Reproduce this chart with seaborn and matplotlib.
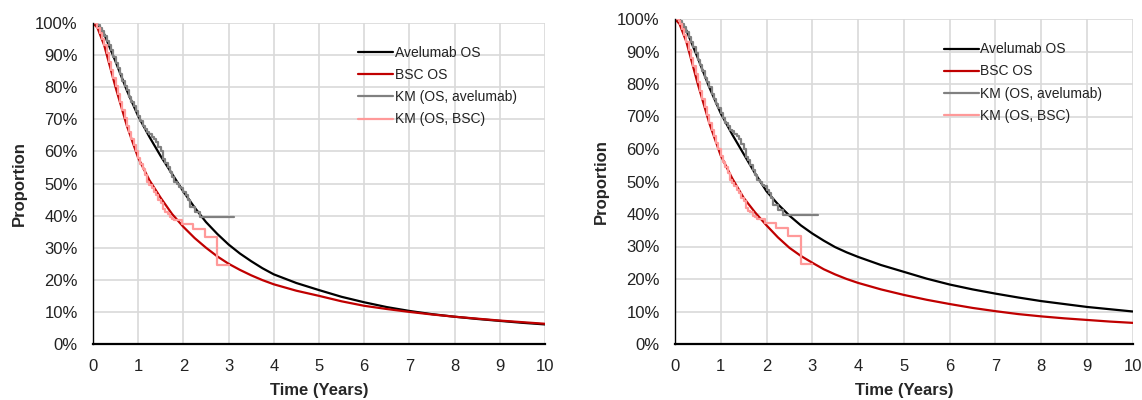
import numpy as np
import pandas as pd
import matplotlib
matplotlib.use("Agg")
import matplotlib.pyplot as plt
import seaborn as sns
from matplotlib.ticker import PercentFormatter

# ---------------- data (percent survival) ----------------
curve_t = [0, 0.1, 0.25, 0.5, 0.75, 1.0, 1.25, 1.5, 1.75, 2.0, 2.25, 2.5, 2.75, 3.0, 3.25, 3.5, 3.75,
           4.0, 4.5, 5.0, 5.5, 6.0, 6.5, 7.0, 7.5, 8.0, 8.5, 9.0, 9.5, 10.0]

left_avelumab_os = [100, 99.5, 96.5, 88, 79, 71, 64.5, 58.5, 53, 47.5, 42.5, 38, 34.3, 31, 28.2, 25.8, 23.6,
                    21.7, 19, 16.8, 14.7, 13, 11.5, 10.3, 9.3, 8.5, 7.8, 7.2, 6.6, 6.1]
left_bsc_os = [100, 98.5, 93, 80, 68, 58, 51, 45.5, 40.5, 36.5, 33, 30, 27.3, 25, 23.1, 21.4, 19.9,
               18.6, 16.6, 15, 13.3, 11.9, 10.9, 10, 9.2, 8.5, 7.9, 7.3, 6.8, 6.3]

right_avelumab_os = [100, 99.5, 96.5, 88, 79, 71, 64.5, 58.5, 52.5, 47, 43, 39.5, 36.5, 34, 31.8, 29.8, 28.2,
                     26.8, 24.3, 22.2, 20.1, 18.3, 16.8, 15.5, 14.3, 13.2, 12.3, 11.4, 10.7, 10]
right_bsc_os = [100, 98.5, 93, 80, 68, 58, 51, 45, 40.5, 36.5, 32.8, 29.6, 27.1, 25, 23, 21.4, 20,
                18.8, 16.8, 15.1, 13.6, 12.3, 11.1, 10.1, 9.2, 8.5, 7.9, 7.4, 6.9, 6.5]

km_avelumab_t = [0, 0.1, 0.15, 0.2, 0.25, 0.3, 0.35, 0.4, 0.45, 0.5, 0.55, 0.6, 0.65, 0.7, 0.75, 0.8,
                 0.85, 0.9, 0.95, 1.0, 1.05, 1.1, 1.15, 1.2, 1.25, 1.3, 1.35, 1.4, 1.45, 1.5, 1.55,
                 1.6, 1.65, 1.7, 1.75, 1.8, 1.85, 1.9, 1.95, 2.0, 2.05, 2.1, 2.14, 2.25, 2.36, 3.13]
km_avelumab_s = [100, 99.5, 98.5, 97.5, 96, 94.5, 93, 91.5, 89.5, 87.5, 86, 84, 82, 80.5, 79, 77,
                 75.5, 74, 72.5, 71, 69.5, 68, 67, 66, 65.5, 64.5, 64, 63, 61.5, 60, 57.5,
                 56.5, 55, 53.5, 52, 50.5, 50, 49, 48.5, 47.5, 46.5, 45, 42.8, 41.2, 39.7, 39.7]

km_bsc_t = [0, 0.08, 0.1, 0.15, 0.2, 0.25, 0.3, 0.35, 0.4, 0.45, 0.5, 0.55, 0.6, 0.65, 0.7, 0.75,
            0.8, 0.85, 0.9, 0.95, 1.0, 1.05, 1.1, 1.15, 1.2, 1.25, 1.3, 1.35, 1.4, 1.45, 1.5,
            1.55, 1.6, 1.65, 1.7, 1.75, 1.8, 1.97, 2.21, 2.48, 2.75, 3.0]
km_bsc_s = [100, 99.5, 98.5, 97, 95, 93, 90.5, 88, 85.5, 83, 80.5, 78, 75.5, 73, 70.5, 68,
            66, 64, 62, 60, 58, 56, 54.5, 52.5, 50.5, 49.5, 48.5, 47.5, 46.5, 45, 44,
            42, 41, 40.5, 39.5, 39, 38.5, 37.3, 35.8, 33.3, 24.6, 24.6]

labels = ["Avelumab OS", "BSC OS", "KM (OS, avelumab)", "KM (OS, BSC)"]
colors = ["#000000", "#c00000", "#808080", "#ff9999"]
x_ticks = list(range(0, 11))
y_ticks = list(range(0, 101, 10))

# ---------------- style ----------------
sns.set_style("white")
plt.rcParams["font.family"] = ["Liberation Sans", "DejaVu Sans"]

fig = plt.figure(figsize=(11.42, 4.0), dpi=100)
ax1 = fig.add_axes([0.0814, 0.14, 0.3958, 0.8025])
ax2 = fig.add_axes([0.591, 0.14, 0.401, 0.8125])


def draw(ax, ave, bsc):
    sns.lineplot(x=curve_t, y=ave, ax=ax, color=colors[0], lw=1.6, label=labels[0])
    sns.lineplot(x=curve_t, y=bsc, ax=ax, color=colors[1], lw=1.6, label=labels[1])
    sns.lineplot(x=km_avelumab_t, y=km_avelumab_s, ax=ax, color=colors[2], lw=1.6,
                 drawstyle="steps-post", label=labels[2])
    sns.lineplot(x=km_bsc_t, y=km_bsc_s, ax=ax, color=colors[3], lw=1.6,
                 drawstyle="steps-post", label=labels[3])
    ax.set_xlim(0, 10)
    ax.set_ylim(0, 100)
    ax.set_xticks(x_ticks)
    ax.set_yticks(y_ticks)
    ax.yaxis.set_major_formatter(PercentFormatter(100, decimals=0))
    ax.grid(True, color="#d9d9d9", lw=1.2)
    ax.set_axisbelow(True)
    for s in ["top", "right"]:
        ax.spines[s].set_visible(False)
    ax.spines["left"].set_color("black")
    ax.spines["left"].set_linewidth(1.0)
    ax.spines["bottom"].set_color("black")
    ax.spines["bottom"].set_linewidth(1.6)
    ax.tick_params(axis="both", length=0, labelsize=12, colors="#222222")
    ax.tick_params(axis="y", pad=11)
    ax.tick_params(axis="x", pad=11)
    ax.set_xlabel("Time (Years)", fontsize=12, fontweight="bold", labelpad=6.5)
    ax.set_ylabel("Proportion", fontsize=12, fontweight="bold", labelpad=6)
    leg = ax.legend(loc="upper left", bbox_to_anchor=(0.575, 0.945), frameon=False,
                    fontsize=10, handlelength=2.5, handletextpad=0.1, labelspacing=0.58,
                    borderaxespad=0)
    for t in leg.get_texts():
        t.set_color("#222222")


draw(ax1, left_avelumab_os, left_bsc_os)
draw(ax2, right_avelumab_os, right_bsc_os)

fig.savefig("out.png", dpi=100)
